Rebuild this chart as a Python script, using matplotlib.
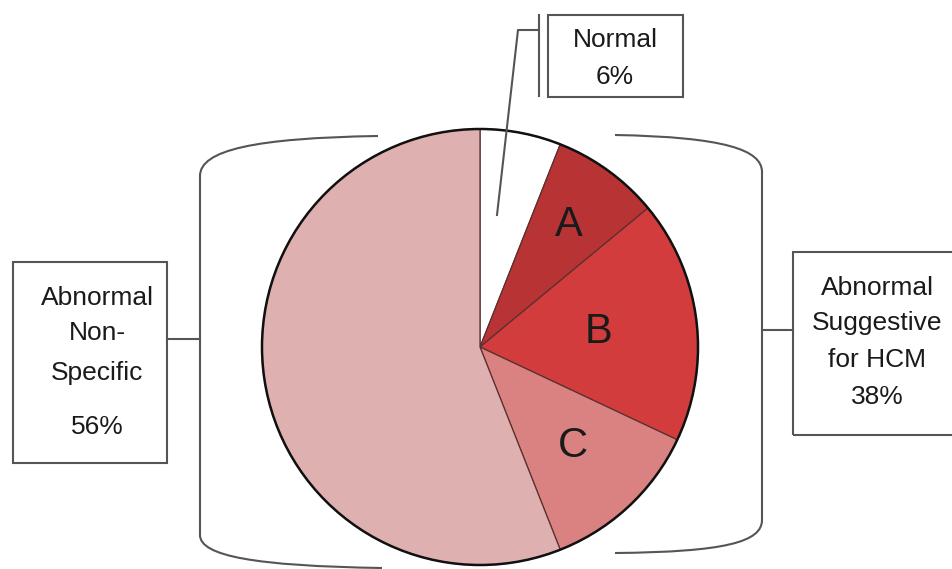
import numpy as np
import matplotlib.pyplot as plt
from matplotlib.path import Path
from matplotlib.patches import PathPatch, Rectangle, Circle

plt.rcParams['font.family'] = ['Liberation Sans', 'DejaVu Sans']

# slices, clockwise from 12 o'clock
slice_labels = ['', 'A', 'B', 'C', '']
slice_values = [6, 8, 18, 12, 56]
slice_colors = ['#ffffff', '#b83434', '#d23c3c', '#da8282', '#dfb0b0']
label_radius = [0.6, 0.69, 0.55, 0.62, 0.6]  # fraction of radius for the letters

group_labels = ['Normal\n6%', 'Abnormal\nSuggestive\nfor HCM\n38%', 'Abnormal\nNon-\nSpecific\n\n56%']

W, H = 952, 569
fig = plt.figure(figsize=(W / 100, H / 100), dpi=100)
ax = fig.add_axes([0, 0, 1, 1])


def Y(y):
    # picture rows -> axes y
    return H - y


cx, cy, R = 480, Y(347), 218
wedges, texts = ax.pie(slice_values, labels=slice_labels, colors=slice_colors,
                       startangle=90, counterclock=False, center=(cx, cy), radius=R,
                       labeldistance=0.62, frame=True,
                       wedgeprops=dict(edgecolor='#5a3030', linewidth=0.9),
                       textprops=dict(fontsize=30, color='#1a1a1a'))
for w, t, f in zip(wedges, texts, label_radius):
    a = np.deg2rad((w.theta1 + w.theta2) / 2)
    t.set_position((cx + f * R * np.cos(a), cy + f * R * np.sin(a)))
    t.set_ha('center')
    t.set_va('center')
ax.set_xlim(0, W)
ax.set_ylim(0, H)
ax.set_aspect('auto')
ax.axis('off')
ax.add_patch(Circle((cx, cy), R, fill=False, edgecolor='#111111', linewidth=1.8, zorder=5))

lc = '#555555'
lw = 1.5


def curve(pts, codes):
    p = Path([(x, Y(y)) for x, y in pts], codes)
    ax.add_patch(PathPatch(p, fill=False, edgecolor=lc, linewidth=lw))


C4, L2, M = Path.CURVE4, Path.LINETO, Path.MOVETO
# left bracket
curve([(378, 136), (255, 138), (200, 150), (200, 176), (200, 535),
       (200, 556), (255, 566), (382, 568)],
      [M, C4, C4, C4, L2, C4, C4, C4])
# right bracket
curve([(615, 135), (725, 137), (762, 150), (762, 172), (762, 520),
       (762, 542), (725, 552), (615, 553)],
      [M, C4, C4, C4, L2, C4, C4, C4])
# connectors
ax.plot([167, 200], [Y(339), Y(339)], color=lc, lw=lw)
ax.plot([762, 793], [Y(330), Y(330)], color=lc, lw=lw)
# normal leader
ax.plot([497, 518, 539], [Y(215), Y(30), Y(30)], color=lc, lw=lw, zorder=6)
ax.plot([539, 539], [Y(15), Y(96)], color=lc, lw=lw)

# boxes
for x0, y0, x1, y1 in [(548, 15, 683, 97), (13, 262, 167, 463), (793, 252, 960, 435)]:
    ax.add_patch(Rectangle((x0, Y(y1)), x1 - x0, y1 - y0, fill=False,
                           edgecolor=lc, linewidth=lw, clip_on=False))

fs = 19
tk = dict(fontsize=fs, ha='center', va='center', color='#1a1a1a')
normal_lines = group_labels[0].split('\n')
for t, y in zip(normal_lines, [40, 77]):
    ax.text(615, Y(y), t, **tk)
hcm_lines = group_labels[1].split('\n')
for t, y in zip(hcm_lines, [288, 323, 360, 397]):
    ax.text(877, Y(y), t, **tk)
ns_lines = [s for s in group_labels[2].split('\n') if s]
for t, y in zip(ns_lines, [298, 333, 373, 427]):
    ax.text(97, Y(y), t, **tk)

fig.savefig('out.png', dpi=100)
